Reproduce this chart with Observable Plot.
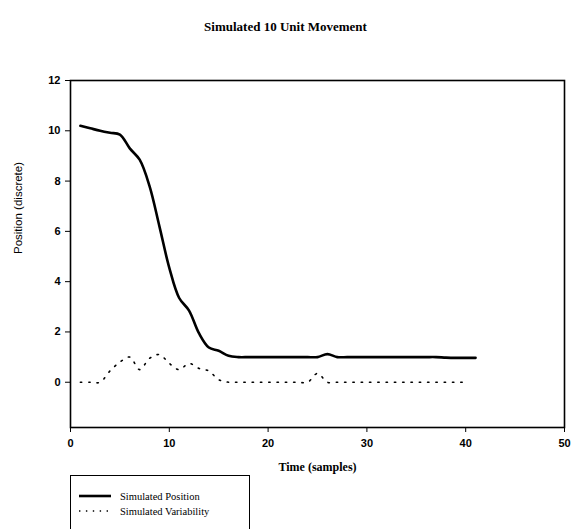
<!DOCTYPE html>
<html>
<head>
<meta charset="utf-8">
<script src="https://cdn.jsdelivr.net/npm/d3@7"></script>
<script src="https://cdn.jsdelivr.net/npm/@observablehq/plot@0.6"></script>
<style>
  html, body { margin: 0; padding: 0; background: #fff; }
  #wrap { position: relative; width: 571px; height: 529px; overflow: hidden; }
  #title { position: absolute; left: 0; width: 571px; top: 19px; text-align: center;
           font-family: "Liberation Serif", serif; font-weight: bold; font-size: 13px; color: #000; }
  #chart { position: absolute; left: 0; top: 0; }
  #legend { position: absolute; left: 70px; top: 475px; width: 180px; height: 70px;
            border: 1.3px solid #000; box-sizing: border-box; background: #fff;
            font-family: "Liberation Serif", serif; font-size: 10.5px; color: #000; }
  .row { position: absolute; left: 0; height: 14px; display: flex; align-items: center; }
  .row svg { margin-left: 8px; margin-right: 9px; }
</style>
</head>
<body>
<div id="wrap">
  <div id="chart"></div>
  <div id="title">Simulated 10 Unit Movement</div>
  <div id="legend"></div>
</div>
<script>
const titleText = "Simulated 10 Unit Movement";
const xLabel = "Time (samples)";
const yLabel = "Position (discrete)";
const seriesNames = ["Simulated Position", "Simulated Variability"];
const xTicks = [0, 10, 20, 30, 40, 50];
const yTicks = [0, 2, 4, 6, 8, 10, 12];

const positionSamples = d3.range(1, 42);
const positionValues = [
  10.2, 10.1, 10.0, 9.92, 9.85, 9.3, 8.85, 7.8, 6.2, 4.55,
  3.35, 2.85, 1.95, 1.38, 1.25, 1.05, 1.0, 1.0, 1.0, 1.0,
  1.0, 1.0, 1.0, 1.0, 1.0, 1.12, 1.0, 1.0, 1.0, 1.0,
  1.0, 1.0, 1.0, 1.0, 1.0, 1.0, 1.0, 0.98, 0.97, 0.97, 0.97
];
const variabilitySamples = d3.range(1, 41);
const variabilityValues = [
  0, 0, 0, 0.45, 0.8, 1.0, 0.5, 0.95, 1.1, 0.75,
  0.5, 0.75, 0.55, 0.45, 0.1, 0, 0, 0, 0, 0,
  0, 0, 0, 0, 0.35, 0, 0, 0, 0, 0,
  0, 0, 0, 0, 0, 0, 0, 0, 0, 0
];

const posData = positionSamples.map((x, i) => ({x, y: positionValues[i]}));
const varData = variabilitySamples.map((x, i) => ({x, y: variabilityValues[i]}));

const chart = Plot.plot({
  width: 571,
  height: 529,
  marginLeft: 70,
  marginRight: 7,
  marginTop: 80,
  marginBottom: 102,
  style: {background: "transparent", color: "#000"},
  x: {domain: [0, 50]},
  y: {domain: [-1.8, 12]},
  marks: [
    Plot.frame({stroke: "#000", strokeWidth: 1.6}),
    Plot.axisX({ticks: xTicks, tickSize: 5, tickPadding: 7, fontWeight: "bold",
      fontSize: 11, fontFamily: "Liberation Sans, Arial, sans-serif",
      label: null}),
    Plot.axisY({ticks: yTicks, tickSize: 5, tickPadding: 5, fontWeight: "bold",
      fontSize: 11, fontFamily: "Liberation Sans, Arial, sans-serif",
      label: null}),
    Plot.text([xLabel], {frameAnchor: "bottom", dy: 43, fontSize: 12,
      fontFamily: "Liberation Serif, serif", fontWeight: "bold"}),
    Plot.text([yLabel], {frameAnchor: "left", dx: -52, rotate: -90, fontSize: 11.5,
      fontFamily: "Liberation Sans, Arial, sans-serif"}),
    Plot.line(varData, {x: "x", y: "y", stroke: "#000", strokeWidth: 1.6,
      strokeDasharray: "1.4 6.9", curve: "catmull-rom"}),
    Plot.line(posData, {x: "x", y: "y", stroke: "#000", strokeWidth: 2.6,
      curve: "catmull-rom"})
  ]
});
document.getElementById("chart").appendChild(chart);

const legend = document.getElementById("legend");
seriesNames.forEach((name, i) => {
  const row = document.createElement("div");
  row.className = "row";
  row.style.top = (13 + i * 15) + "px";
  const dash = i === 0 ? "" : 'stroke-dasharray="1.4 5.5"';
  const sw = i === 0 ? 2.6 : 1.4;
  row.innerHTML = `<svg width="32" height="6"><line x1="0" y1="3" x2="32" y2="3" stroke="#000" stroke-width="${sw}" ${dash}/></svg><span>${name}</span>`;
  legend.appendChild(row);
});
</script>
</body>
</html>
